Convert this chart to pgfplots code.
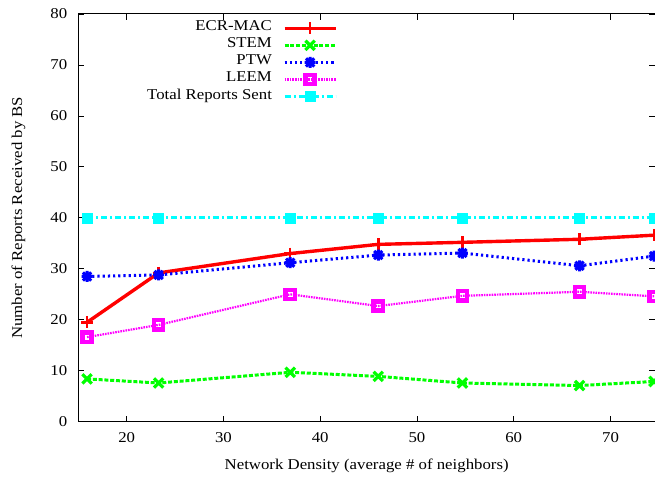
\documentclass[border=0pt]{standalone}
\usepackage{fontspec}
\setmainfont{Liberation Serif}[FakeStretch=1.12]
\usepackage{pgfplots}
\pgfplotsset{compat=1.18}

% gnuplot-style "*" point: a plus and a cross on top of each other
\pgfdeclareplotmark{plusx}{%
  \pgfpathmoveto{\pgfqpoint{-\pgfplotmarksize}{0pt}}\pgfpathlineto{\pgfqpoint{\pgfplotmarksize}{0pt}}%
  \pgfpathmoveto{\pgfqpoint{0pt}{-\pgfplotmarksize}}\pgfpathlineto{\pgfqpoint{0pt}{\pgfplotmarksize}}%
  \pgfpathmoveto{\pgfqpoint{-.75\pgfplotmarksize}{-.75\pgfplotmarksize}}\pgfpathlineto{\pgfqpoint{.75\pgfplotmarksize}{.75\pgfplotmarksize}}%
  \pgfpathmoveto{\pgfqpoint{-.75\pgfplotmarksize}{.75\pgfplotmarksize}}\pgfpathlineto{\pgfqpoint{.75\pgfplotmarksize}{-.75\pgfplotmarksize}}%
  \pgfusepathqstroke}

\definecolor{gred}{RGB}{255,0,0}
\definecolor{ggreen}{RGB}{0,255,0}
\definecolor{gblue}{RGB}{0,0,255}
\definecolor{gmag}{RGB}{255,0,255}
\definecolor{gcyan}{RGB}{0,255,255}

\newcommand{\chartfont}{\fontsize{15bp}{18bp}\selectfont}

\begin{document}
\begin{tikzpicture}
\begin{axis}[
  scale only axis,
  width=577bp, height=408bp,
  xmin=15, xmax=74.6, ymin=0, ymax=80,
  xtick={20,30,...,70}, ytick={0,10,...,80},
  minor tick num=0,
  tick align=inside, major tick length=6bp,
  tick style={black, line width=0.8bp},
  axis line style={black, line width=1bp},
  /pgf/number format/assume math mode=true,
  every tick label/.append style={font=\chartfont, inner sep=0pt},
  xticklabel style={yshift=-11bp},
  yticklabel style={xshift=-11bp},
  label style={font=\chartfont},
  xlabel={Network Density (average \# of neighbors)},
  ylabel={Number of Reports Received by BS},
  xlabel style={at={(axis description cs:0.5,-0.108)}, anchor=center},
  ylabel style={at={(axis description cs:-0.104,0.5)}, anchor=center},
  legend style={draw=none, fill=none, font=\chartfont,
    at={(axis description cs:0.449,0.986)}, anchor=north east,
    inner sep=0pt, outer sep=0pt,
    nodes={inner sep=0pt, text height=11bp, text depth=6.1bp},
    /tikz/column sep=11bp},
  legend cell align=right,
  legend plot pos=right,
  legend image code/.code={%
    \draw[mark repeat=2, mark phase=2] plot coordinates {(0bp,0bp) (25.5bp,0bp) (51bp,0bp)};},
]
\coordinate (ll) at (rel axis cs:0,0);
\coordinate (ur) at (rel axis cs:1,1);

\addplot[gred, line width=3.4bp, mark=+, mark size=6bp, mark options={solid, line width=2.5bp}]
  coordinates {(15.9,19.5) (23.3,29.2) (36.9,33.0) (46.0,34.8) (54.7,35.2) (66.8,35.8) (74.5,36.6)};
\addlegendentry{ECR-MAC}

\addplot[ggreen, line width=3bp, dash pattern=on 4bp off 1.8bp, mark=x, mark size=6.6bp, mark options={solid, line width=3.2bp}]
  coordinates {(15.9,8.4) (23.3,7.6) (36.9,9.7) (46.0,8.9) (54.7,7.6) (66.8,7.1) (74.5,7.9)};
\addlegendentry{STEM}

\addplot[gblue, line width=3bp, dash pattern=on 2.2bp off 3bp, mark=plusx, mark size=5.5bp, mark options={solid, line width=3bp}]
  coordinates {(15.9,28.5) (23.3,28.8) (36.9,31.2) (46.0,32.7) (54.7,33.1) (66.8,30.6) (74.5,32.5)};
\addlegendentry{PTW}

\addplot[gmag, line width=2.2bp, dash pattern=on 1.6bp off 1bp, mark=square, mark size=4.6bp, mark options={solid, line width=4.4bp}]
  coordinates {(15.9,16.6) (23.3,19.0) (36.9,25.0) (46.0,22.7) (54.7,24.7) (66.8,25.5) (74.5,24.6)};
\addlegendentry{LEEM}

\addplot[gcyan, line width=3bp, dash pattern=on 6bp off 3bp on 2bp off 3bp, mark=square*, mark size=5bp, mark options={solid, line width=0.5bp}]
  coordinates {(15.9,40) (23.3,40) (36.9,40) (46.0,40) (54.7,40) (66.8,40) (74.5,40)};
\addlegendentry{Total Reports Sent}
\end{axis}
\pgfresetboundingbox
\path ([shift={(-78.4bp,-59bp)}]ll) rectangle ([shift={(0bp,14bp)}]ur);
\end{tikzpicture}
\end{document}
